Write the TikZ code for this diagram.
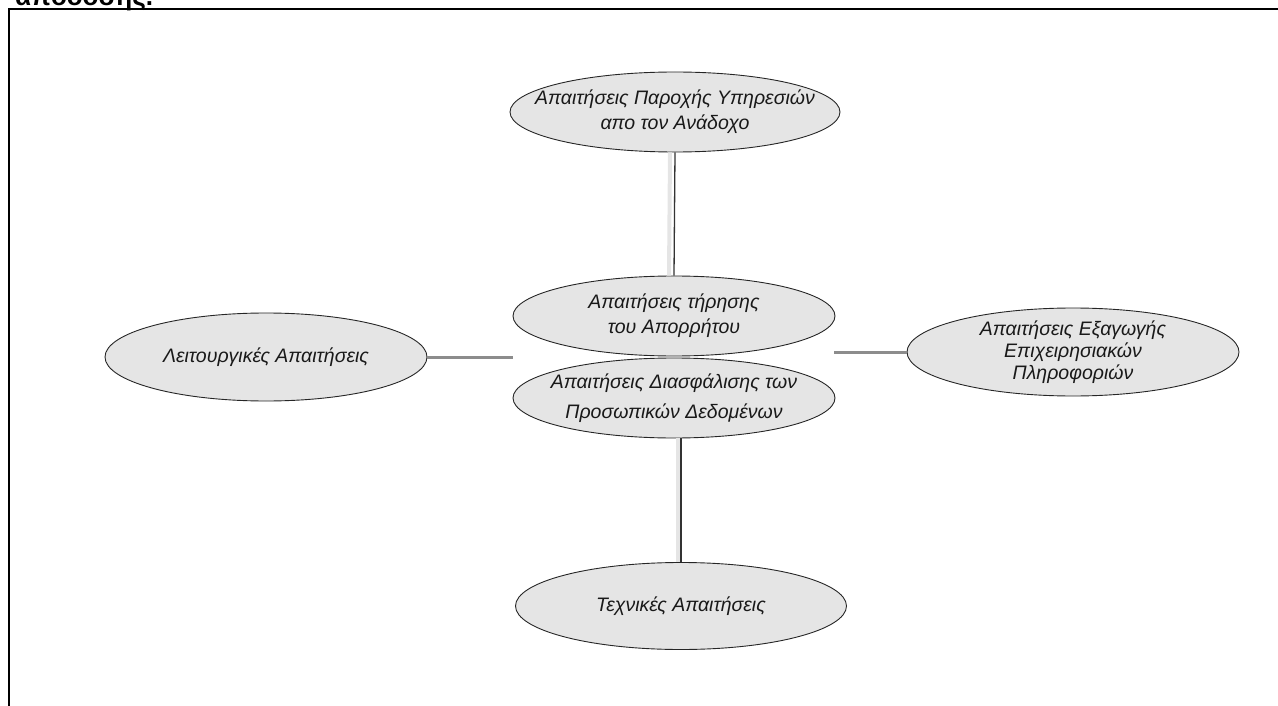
\documentclass[tikz,border=0pt]{standalone}
\usepackage{fontspec}
\setmainfont{Liberation Sans}
\usetikzlibrary{shapes.geometric}
\tikzset{
  req/.style={ellipse, draw=black!85, line width=0.9pt, fill=black!10, inner sep=0pt},
  reqtext/.style={align=center, font=\itshape\fontsize{19.5}{24}\selectfont, text=black!90, inner sep=0pt},
  vconn/.style={draw=black!80, line width=1.3pt},
  vshadow/.style={draw=black!10, line width=4pt},
  hconn/.style={draw=black!45, line width=3pt},
  frameline/.style={draw=black, line width=2pt},
}
\begin{document}
\begin{tikzpicture}[x=1pt,y=-1pt]
\useasboundingbox (0,0) rectangle (1278,706);
\clip (0,0) rectangle (1278,706);
% clipped heading above frame
\node[anchor=base west, font=\bfseries\fontsize{26}{30}\selectfont, inner sep=0pt] (head) at (15,6) {απόδοσης.};
% frame
\draw[frameline] (9,706) -- (9,9) -- (1278,9);

% ellipses
\node[req, minimum width=330pt, minimum height=80pt] (top) at (675,112) {};
\node[req, minimum width=322pt, minimum height=80pt] (up) at (674,316) {};
\node[req, minimum width=322pt, minimum height=80pt] (low) at (674,398) {};
\node[req, minimum width=331pt, minimum height=87pt] (bot) at (681,606) {};
\node[req, minimum width=322pt, minimum height=88pt] (left) at (266,357) {};
\node[req, minimum width=332pt, minimum height=88pt] (right) at (1073,352) {};

% texts
\node[reqtext, font=\itshape\fontsize{19.5}{25}\selectfont] (topT) at (top) {Απαιτήσεις Παροχής Υπηρεσιών\\απο τον Ανάδοχο};
\node[reqtext, font=\itshape\fontsize{19.5}{25}\selectfont] (upT) at (up) {Απαιτήσεις τήρησης\\του Απορρήτου};
\node[reqtext, font=\itshape\fontsize{19.5}{30}\selectfont] (lowT) at (low) {Απαιτήσεις Διασφάλισης των\\Προσωπικών Δεδομένων};
\node[reqtext] (botT) at (bot) {Τεχνικές Απαιτήσεις};
\node[reqtext] (leftT) at (left) {Λειτουργικές Απαιτήσεις};
\node[reqtext, font=\itshape\fontsize{19.5}{22}\selectfont] (rightT) at (right) {Απαιτήσεις Εξαγωγής\\Επιχειρησιακών\\Πληροφοριών};

% junction points
\coordinate (jL) at (513,357);
\coordinate (jR) at (834,352);

% connectors
\draw[vshadow, transform canvas={xshift=-5pt}] (top.south) -- (up.north);
\draw[vconn] (top.south) -- (up.north);
\draw[vshadow, transform canvas={xshift=-3pt}] (bot.north |- low.south) -- (bot.north);
\draw[vconn] (bot.north |- low.south) -- (bot.north);
\draw[hconn] (left.east) -- (jL);
\draw[hconn] (jR) -- (right.west);
\end{tikzpicture}
\end{document}
